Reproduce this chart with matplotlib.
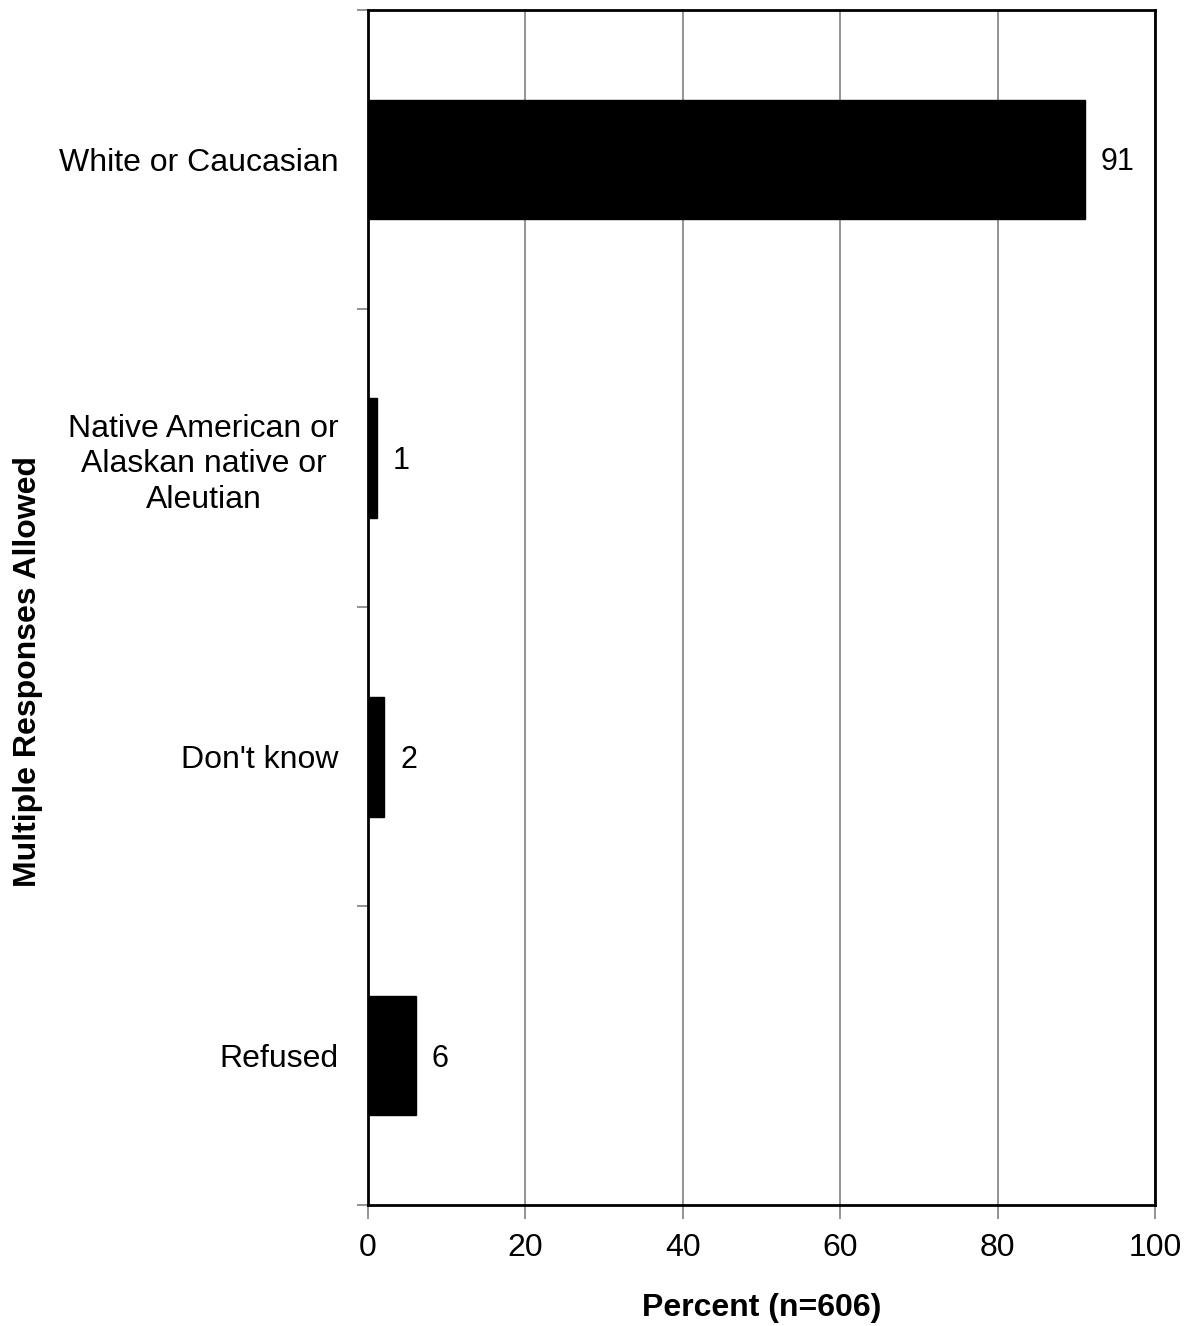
import numpy as np
import matplotlib.pyplot as plt

plt.rcParams['font.family'] = ['Liberation Sans', 'DejaVu Sans']

categories = ['White or Caucasian',
              'Native American or\nAlaskan native or\nAleutian',
              "Don't know",
              'Refused']
values = [91.1, 1.1, 2.1, 6.1]
labels = ['91', '1', '2', '6']
xticks = [0, 20, 40, 60, 80, 100]

fig = plt.figure(figsize=(11.87, 13.26), dpi=100)
ax = fig.add_axes([0.310, 0.0913, 0.663, 0.9012])

y = np.arange(len(categories))
ax.barh(y, values, height=0.4, color='black', edgecolor='black', zorder=3)

# value labels next to bars
for yi, v, lab in zip(y, values, labels):
    ax.text(v + 2, yi + 0.01, lab, va='center', ha='left', fontsize=22)

ax.set_xlim(0, 100)
ax.set_ylim(len(categories) - 0.5, -0.5)
ax.set_xticks(xticks)
ax.set_xticklabels([str(t) for t in xticks], fontsize=23)
ax.set_yticks(y)
ax.set_yticklabels(categories, fontsize=23, multialignment='center', linespacing=1.25)
ax.tick_params(axis='y', which='major', length=0, pad=21)
ax.set_yticks(np.arange(-0.5, len(categories), 1.0), minor=True)
ax.tick_params(axis='y', which='minor', length=8, color='#808080', width=1.2)
ax.tick_params(axis='x', which='major', length=10, color='#808080', width=1.2, pad=10)

ax.grid(axis='x', color='#808080', linewidth=1.2, zorder=0)
for s in ax.spines.values():
    s.set_linewidth(2)
    s.set_color('black')

ax.set_xlabel('Percent (n=606)', fontsize=23, fontweight='bold')
ax.xaxis.set_label_coords(0.5, -0.074)
ax.set_ylabel('Multiple Responses Allowed', fontsize=23, fontweight='bold')
ax.yaxis.set_label_coords(-0.413, 0.446)

fig.savefig('out.png', dpi=100)
